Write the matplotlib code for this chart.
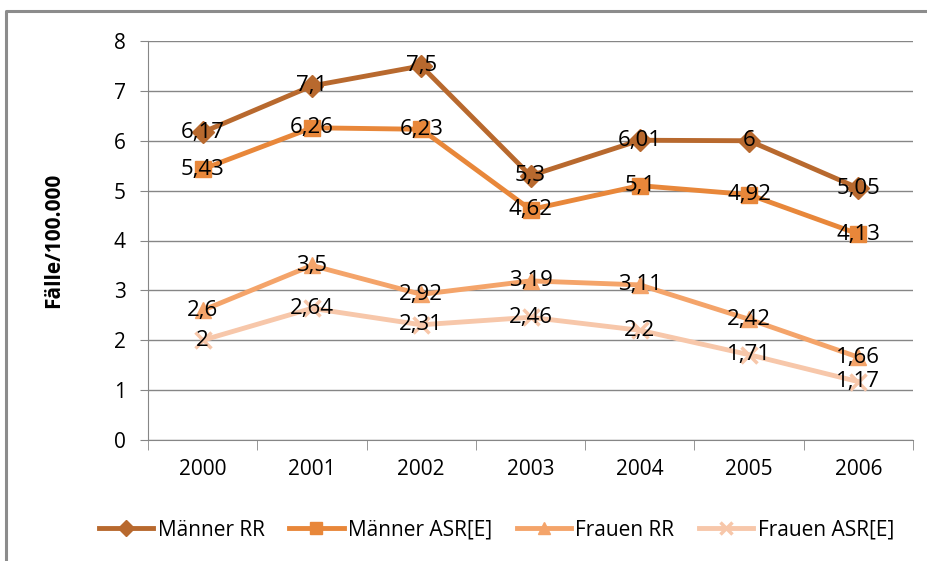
import matplotlib
matplotlib.use("Agg")
import matplotlib.pyplot as plt
from matplotlib.lines import Line2D

plt.rcParams['font.family'] = ['Open Sans', 'DejaVu Sans']

years = ["2000", "2001", "2002", "2003", "2004", "2005", "2006"]
maenner_rr = [6.17, 7.1, 7.5, 5.3, 6.01, 6, 5.05]
maenner_asr = [5.43, 6.26, 6.23, 4.62, 5.1, 4.92, 4.13]
frauen_rr = [2.6, 3.5, 2.92, 3.19, 3.11, 2.42, 1.66]
frauen_asr = [2, 2.64, 2.31, 2.46, 2.2, 1.71, 1.17]

series = [
    ("Männer RR", maenner_rr, "#B8692E", "D", 11),
    ("Männer ASR[E]", maenner_asr, "#E8873A", "s", 12),
    ("Frauen RR", frauen_rr, "#F4A46A", "^", 12),
    ("Frauen ASR[E]", frauen_asr, "#F7C7AA", "x", 11),
]

def fmt(v):
    s = ("%.2f" % v).rstrip("0").rstrip(".")
    return s.replace(".", ",")

fig = plt.figure(figsize=(9.28, 5.61), dpi=100)
# outer chart frame: only left and top edges visible
fig.lines.append(Line2D([6/928, 6/928, 1.0], [0.0, 1 - 11/561, 1 - 11/561],
                        transform=fig.transFigure, color="#8c8c8c", linewidth=2.2))
ax = fig.add_axes([148/928, 1 - 440/561, 765/928, 399/561])

x = list(range(len(years)))
for name, vals, col, mk, ms in series:
    mew = 2.5 if mk == "x" else 1
    ax.plot(x, vals, color=col, linewidth=3.5, marker=mk, markersize=ms,
            markeredgewidth=mew, markeredgecolor=col, label=name, zorder=3)
    for xi, v in zip(x, vals):
        ax.text(xi, v, fmt(v), ha="center", va="center", fontsize=16, color="black", zorder=4)

ax.set_xlim(-0.5, len(years) - 0.5)
ax.set_ylim(0, 8)
ax.set_yticks(range(0, 9))
ax.set_xticks(x)
ax.set_xticklabels(years)
ax.set_xticks([i - 0.5 for i in range(len(years) + 1)], minor=True)
ax.tick_params(axis="x", which="major", length=0, labelsize=15, pad=14)
ax.tick_params(axis="x", which="minor", length=7, color="#868686")
ax.tick_params(axis="y", length=6, color="#868686", labelsize=15, pad=10)
ax.yaxis.grid(True, color="#868686", linewidth=1)
ax.set_axisbelow(True)
for s in ["top", "right"]:
    ax.spines[s].set_visible(False)
for s in ["left", "bottom"]:
    ax.spines[s].set_color("#868686")
ax.set_ylabel("Fälle/100.000", fontsize=15, fontweight="bold", labelpad=36)

ax.legend(loc="center", bbox_to_anchor=(0.535, 1 - 530/561), bbox_transform=fig.transFigure,
          ncol=4, frameon=False, fontsize=15, markerscale=0.75,
          handlelength=2.6, columnspacing=1.2, handletextpad=0.2)

fig.savefig("out.png", dpi=100)
